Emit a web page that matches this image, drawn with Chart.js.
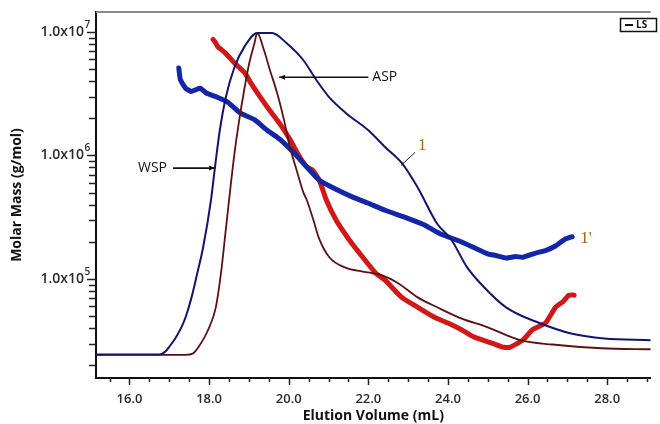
<!DOCTYPE html>
<html>
<head>
<meta charset="utf-8">
<script src="https://cdn.jsdelivr.net/npm/chart.js@4"></script>
<style>
  html, body { margin: 0; padding: 0; background: #fff; }
  #sec { display: block; }
</style>
</head>
<body>
<canvas id="sec" width="660" height="424"></canvas>
<script>
// SEC-MALS traces: LS detector signal (thin) and molar mass (thick)

// WSP light scattering trace
const wspLsVol = [15.16, 16.49, 16.75, 16.91, 16.99, 17.15, 17.31, 17.41, 17.56, 17.7, 17.85, 18.05, 18.15, 18.27, 18.42, 18.64, 18.89, 19.21, 19.58, 19.95, 20.37, 20.69, 21.02, 21.44, 22.0, 22.42, 22.84, 23.24, 23.73, 24.08, 24.47, 24.89, 25.46, 26.3, 27.12, 27.93, 29.09];
const wspLsVal = [2.45e4, 2.45e4, 2.45e4, 2.6e4, 2.8e4, 3.3e4, 4.1e4, 4.9e4, 7.1e4, 1.1e5, 1.8e5, 4.4e5, 8.1e5, 1.6e6, 2.95e6, 5.2e6, 7.6e6, 9.8e6, 9.8e6, 8.1e6, 5.9e6, 4.1e6, 2.95e6, 2.2e6, 1.6e6, 1.17e6, 8.7e5, 5.5e5, 2.8e5, 2.1e5, 1.26e5, 8.7e4, 5.9e4, 4.4e4, 3.6e4, 3.3e4, 3.2e4];

// ASP light scattering trace
const aspLsVol = [15.16, 17.41, 17.6, 17.73, 17.98, 18.17, 18.3, 18.42, 18.54, 18.64, 18.77, 18.89, 19.01, 19.14, 19.21, 19.38, 19.53, 19.71, 19.88, 20.03, 20.2, 20.37, 20.45, 20.62, 20.77, 21.02, 21.44, 21.86, 22.35, 22.74, 23.24, 23.73, 24.33, 24.97, 25.81, 26.62, 27.86, 29.09];
const aspLsVal = [2.43e4, 2.43e4, 2.5e4, 2.8e4, 3.9e4, 5.9e4, 1.12e5, 2.5e5, 5.6e5, 1.05e6, 2.05e6, 3.5e6, 5.6e6, 8.1e6, 9.8e6, 7.1e6, 4.9e6, 3.2e6, 1.95e6, 1.17e6, 7.6e5, 5.0e5, 4.4e5, 3.0e5, 2.1e5, 1.5e5, 1.23e5, 1.15e5, 1.07e5, 9.3e4, 7.1e4, 5.9e4, 4.8e4, 4.1e4, 3.2e4, 2.95e4, 2.75e4, 2.7e4];

// WSP molar mass (1')
const wspMwVol = [17.24, 17.28, 17.41, 17.55, 17.66, 17.78, 17.93, 18.22, 18.47, 18.79, 19.14, 19.46, 19.78, 20.13, 20.45, 20.77, 21.2, 21.61, 22.0, 22.42, 22.99, 23.4, 23.83, 24.25, 24.65, 25.0, 25.2, 25.46, 25.7, 25.88, 26.2, 26.45, 26.7, 26.94, 27.12];
const wspMwVal = [5.1e6, 4.1e6, 3.5e6, 3.3e6, 3.4e6, 3.5e6, 3.2e6, 2.95e6, 2.7e6, 2.2e6, 1.95e6, 1.6e6, 1.35e6, 1.05e6, 8.1e5, 6.3e5, 5.3e5, 4.6e5, 4.1e5, 3.6e5, 3.1e5, 2.75e5, 2.3e5, 2.05e5, 1.8e5, 1.6e5, 1.55e5, 1.48e5, 1.52e5, 1.5e5, 1.62e5, 1.7e5, 1.85e5, 2.1e5, 2.2e5];

// ASP molar mass
const aspMwVol = [18.1, 18.16, 18.22, 18.4, 18.64, 18.89, 19.04, 19.29, 19.53, 19.78, 20.03, 20.27, 20.45, 20.6, 20.77, 20.94, 21.19, 21.51, 21.86, 22.18, 22.42, 22.84, 23.24, 23.66, 24.0, 24.33, 24.65, 25.14, 25.4, 25.56, 25.88, 26.13, 26.45, 26.7, 26.9, 27.04, 27.17];
const aspMwVal = [8.7e6, 8.2e6, 7.6e6, 6.8e6, 5.6e6, 4.7e6, 3.9e6, 2.95e6, 2.3e6, 1.8e6, 1.35e6, 9.8e5, 8.1e5, 7.6e5, 6.3e5, 4.4e5, 3.0e5, 2.1e5, 1.5e5, 1.12e5, 9.8e4, 7.1e4, 5.9e4, 4.9e4, 4.4e4, 3.9e4, 3.4e4, 3.0e4, 2.8e4, 2.8e4, 3.2e4, 3.9e4, 4.4e4, 5.9e4, 6.6e4, 7.4e4, 7.4e4];

const xTickLabels = [16, 18, 20, 22, 24, 26, 28];
const yDecades = [5, 6, 7];

function pts(xs, ys) {
  return xs.map((x, i) => ({ x: x, y: ys[i] }));
}

const tickFont = '600 14px "Open Sans"';
const ink = '#222';

const axisDecor = {
  id: 'axisDecor',
  afterDraw(chart) {
    const ctx = chart.ctx;
    const xs = chart.scales.x;
    const ys = chart.scales.y;
    const area = chart.chartArea;
    ctx.save();

    // grey frame line on top
    ctx.strokeStyle = '#8a8a8a';
    ctx.lineWidth = 2;
    ctx.beginPath();
    ctx.moveTo(area.left, area.top);
    ctx.lineTo(area.right, area.top);
    ctx.stroke();

    // x tick marks every 0.5 mL, longer at labelled values
    ctx.strokeStyle = ink;
    ctx.lineWidth = 1.5;
    for (let v = 15.5; v <= xs.max; v += 0.5) {
      const px = Math.round(xs.getPixelForValue(v)) + 0.5;
      const len = xTickLabels.includes(v) ? 7 : 4;
      ctx.beginPath();
      ctx.moveTo(px, area.bottom);
      ctx.lineTo(px, area.bottom + len);
      ctx.stroke();
    }

    // log ticks on the y axis
    for (let d = 4; d <= 7; d++) {
      for (let m = 1; m <= 9; m++) {
        const val = m * Math.pow(10, d);
        if (val < ys.min || val > ys.max) continue;
        const py = Math.round(ys.getPixelForValue(val)) + 0.5;
        ctx.beginPath();
        ctx.moveTo(area.left, py);
        ctx.lineTo(area.left - (m === 1 ? 9 : 7), py);
        ctx.stroke();
      }
    }

    // y tick labels 1.0x10^n
    ctx.fillStyle = '#2a2a2a';
    ctx.textBaseline = 'middle';
    yDecades.forEach(d => {
      const py = ys.getPixelForValue(Math.pow(10, d));
      ctx.font = tickFont;
      ctx.textAlign = 'right';
      ctx.fillText('1.0x10', 84, py);
      ctx.font = '600 10px "Open Sans"';
      ctx.textAlign = 'left';
      ctx.fillText(String(d), 84.5, py - 7);
    });

    // legend box
    ctx.strokeStyle = '#111';
    ctx.lineWidth = 1.5;
    ctx.strokeRect(620.5, 18.5, 36, 13);
    ctx.lineWidth = 2;
    ctx.beginPath();
    ctx.moveTo(625, 25);
    ctx.lineTo(633, 25);
    ctx.stroke();
    ctx.fillStyle = '#111';
    ctx.font = 'bold 10px "Open Sans"';
    ctx.textAlign = 'left';
    ctx.fillText('LS', 636, 25.5);

    // curve annotations
    const P = (x, y) => ({ x: xs.getPixelForValue(x), y: ys.getPixelForValue(y) });
    function arrow(from, to) {
      ctx.strokeStyle = '#111';
      ctx.fillStyle = '#111';
      ctx.lineWidth = 1.6;
      ctx.beginPath();
      ctx.moveTo(from.x, from.y);
      ctx.lineTo(to.x, to.y);
      ctx.stroke();
      const dir = Math.sign(to.x - from.x);
      ctx.beginPath();
      ctx.moveTo(to.x, to.y);
      ctx.lineTo(to.x - dir * 6, to.y - 2.5);
      ctx.lineTo(to.x - dir * 6, to.y + 2.5);
      ctx.closePath();
      ctx.fill();
    }
    ctx.font = '14px "Open Sans"';
    ctx.textBaseline = 'middle';

    const wspTip = P(18.15, 7.9e5);
    arrow({ x: wspTip.x - 42, y: wspTip.y }, wspTip);
    ctx.fillStyle = '#111';
    ctx.textAlign = 'right';
    ctx.fillText('WSP', wspTip.x - 48, wspTip.y);

    const aspTip = P(19.76, 4.3e6);
    const aspTail = P(22.0, 4.3e6);
    arrow(aspTail, aspTip);
    ctx.fillStyle = '#111';
    ctx.textAlign = 'left';
    ctx.fillText('ASP', aspTail.x + 4, aspTail.y);

    const lead = P(22.82, 8.3e5);
    ctx.strokeStyle = '#111';
    ctx.lineWidth = 1;
    ctx.beginPath();
    ctx.moveTo(lead.x, lead.y);
    ctx.lineTo(lead.x + 14, lead.y - 13);
    ctx.stroke();
    ctx.fillStyle = '#a8650f';
    ctx.font = '17px "Liberation Serif"';
    ctx.textAlign = 'left';
    ctx.fillText('1', lead.x + 17, lead.y - 20);

    const oneP = P(27.25, 2.15e5);
    ctx.fillText("1'", oneP.x + 3, oneP.y + 1);

    ctx.restore();
  }
};

const ctx = document.getElementById('sec').getContext('2d');
new Chart(ctx, {
  type: 'scatter',
  data: {
    datasets: [
      {
        label: 'WSP LS',
        data: pts(wspLsVol, wspLsVal),
        borderColor: '#14146a',
        borderWidth: 2,
        cubicInterpolationMode: 'monotone'
      },
      {
        label: 'ASP LS',
        data: pts(aspLsVol, aspLsVal),
        borderColor: '#5c1212',
        borderWidth: 1.8,
        cubicInterpolationMode: 'monotone'
      },
      {
        label: 'WSP Mw',
        data: pts(wspMwVol, wspMwVal),
        borderColor: '#1326a6',
        borderWidth: 5,
        tension: 0.15
      },
      {
        label: 'ASP Mw',
        data: pts(aspMwVol, aspMwVal),
        borderColor: '#d01818',
        borderWidth: 5,
        tension: 0.15
      }
    ]
  },
  options: {
    responsive: false,
    animation: false,
    devicePixelRatio: 1,
    showLine: true,
    layout: { padding: { top: 12, right: 0, left: 0, bottom: 0 } },
    elements: {
      point: { radius: 0, hoverRadius: 0 },
      line: { borderCapStyle: 'round', borderJoinStyle: 'round' }
    },
    plugins: {
      legend: { display: false },
      tooltip: { enabled: false }
    },
    scales: {
      x: {
        type: 'linear',
        min: 15.16,
        max: 29.09,
        grid: { display: false, drawTicks: false },
        border: { display: true, color: '#111', width: 2 },
        ticks: {
          stepSize: 0.5,
          includeBounds: false,
          autoSkip: false,
          maxRotation: 0,
          padding: 13,
          color: '#2a2a2a',
          font: { family: 'Open Sans', size: 13, weight: '600' },
          callback: v => xTickLabels.includes(v) ? v.toFixed(1) : ''
        },
        title: {
          display: true,
          text: 'Elution Volume (mL)',
          color: '#111',
          font: { family: 'Open Sans', size: 14, weight: 'bold' },
          padding: { top: 0, bottom: 0 }
        },
        afterFit: s => { s.height = 46; }
      },
      y: {
        type: 'logarithmic',
        min: 15800,
        max: 1.45e7,
        grid: { display: false, drawTicks: false },
        border: { display: true, color: '#111', width: 2 },
        ticks: { display: false },
        title: {
          display: true,
          text: 'Molar Mass (g/mol)',
          color: '#111',
          font: { family: 'Open Sans', size: 14, weight: 'bold' },
          padding: { top: 9, bottom: 0 }
        },
        afterFit: s => { s.width = 96; }
      }
    }
  },
  plugins: [axisDecor]
});
</script>
</body>
</html>
